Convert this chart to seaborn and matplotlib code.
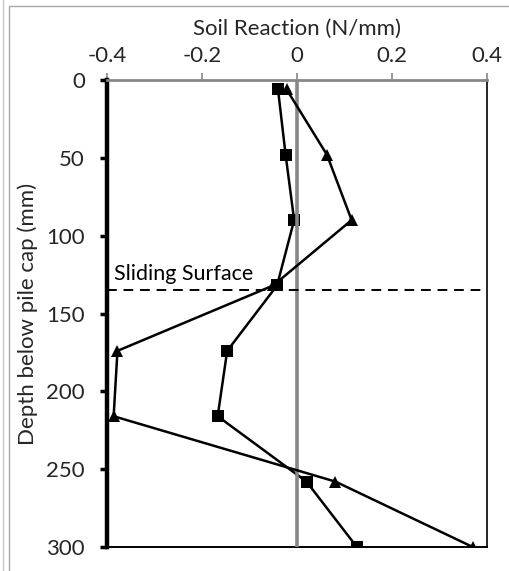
import matplotlib
matplotlib.use("Agg")
import matplotlib.pyplot as plt
from matplotlib.lines import Line2D
import seaborn as sns
import pandas as pd

# Data
depth = [6, 48, 90, 132, 174, 216, 258, 300]
reaction_square = [-0.040, -0.024, -0.006, -0.042, -0.147, -0.167, 0.020, 0.126]
reaction_triangle = [-0.022, 0.063, 0.115, -0.050, -0.378, -0.386, 0.081, 0.370]
x_ticks = [-0.4, -0.2, 0, 0.2, 0.4]
x_tick_labels = ["-0.4", "-0.2", "0", "0.2", "0.4"]
y_ticks = [0, 50, 100, 150, 200, 250, 300]
sliding_depth = 135

sns.set_theme(style="white")
plt.rcParams['font.family'] = ['Lato', 'DejaVu Sans']

W, H = 509, 571
fig = plt.figure(figsize=(W / 100, H / 100), dpi=100)
ax = fig.add_axes([107 / W, 1 - 547 / H, (487 - 107) / W, (547 - 80) / H])

df_sq = pd.DataFrame({"x": reaction_square, "y": depth})
df_tr = pd.DataFrame({"x": reaction_triangle, "y": depth})

sns.lineplot(data=df_sq, x="x", y="y", sort=False, marker="s", markersize=8.5,
             color="black", linewidth=1.8, markeredgewidth=0, ax=ax, zorder=2)
ax.axvline(0, color="#878787", linewidth=2.6, zorder=3)
sns.lineplot(data=df_tr, x="x", y="y", sort=False, marker="^", markersize=9,
             color="black", linewidth=1.8, markeredgewidth=0, ax=ax, zorder=4)

ax.axhline(sliding_depth, color="black", linewidth=1.4, linestyle=(0, (5, 3.5)),
           zorder=5, clip_on=False)
ax.set_xlim(-0.4, 0.4)
ax.set_ylim(300, 0)

ax.text(-0.385, sliding_depth - 4, "Sliding Surface", fontsize=15.5, color="black",
        ha="left", va="bottom")

ax.xaxis.set_ticks_position("top")
ax.xaxis.set_label_position("top")
ax.set_xticks(x_ticks)
ax.set_xticklabels(x_tick_labels)
ax.set_yticks(y_ticks)
ax.set_yticklabels([str(v) for v in y_ticks])
ax.set_xlabel("Soil Reaction (N/mm)", fontsize=16, labelpad=8)
ax.set_ylabel("Depth below pile cap (mm)", fontsize=16, labelpad=6)

ax.tick_params(axis="x", top=True, bottom=False, direction="out", length=5,
               width=1.2, color="#878787", labelsize=16, pad=5)
ax.tick_params(axis="y", left=True, direction="out", length=5, width=2.5,
               color="black", labelsize=16, pad=11)

for side in ["left", "right", "top", "bottom"]:
    ax.spines[side].set_visible(True)
ax.spines["left"].set_color("black")
ax.spines["left"].set_linewidth(3.2)
ax.spines["top"].set_color("#878787")
ax.spines["top"].set_linewidth(2.0)
ax.spines["right"].set_color("black")
ax.spines["right"].set_linewidth(1.2)
ax.spines["bottom"].set_color("black")
ax.spines["bottom"].set_linewidth(1.4)
ax.set_facecolor("white")

# outer frame lines
fig.add_artist(Line2D([2.5 / W, 2.5 / W], [0, 1], transform=fig.transFigure,
                      color="#c8c8c8", linewidth=1.0))
fig.add_artist(Line2D([8.5 / W, 8.5 / W], [0, 1 - 6 / H], transform=fig.transFigure,
                      color="#a8a8a8", linewidth=1.0))
fig.add_artist(Line2D([8.5 / W, 1], [1 - 6 / H, 1 - 6 / H], transform=fig.transFigure,
                      color="#a8a8a8", linewidth=1.0))

fig.savefig("out.png", dpi=100, facecolor="white")
